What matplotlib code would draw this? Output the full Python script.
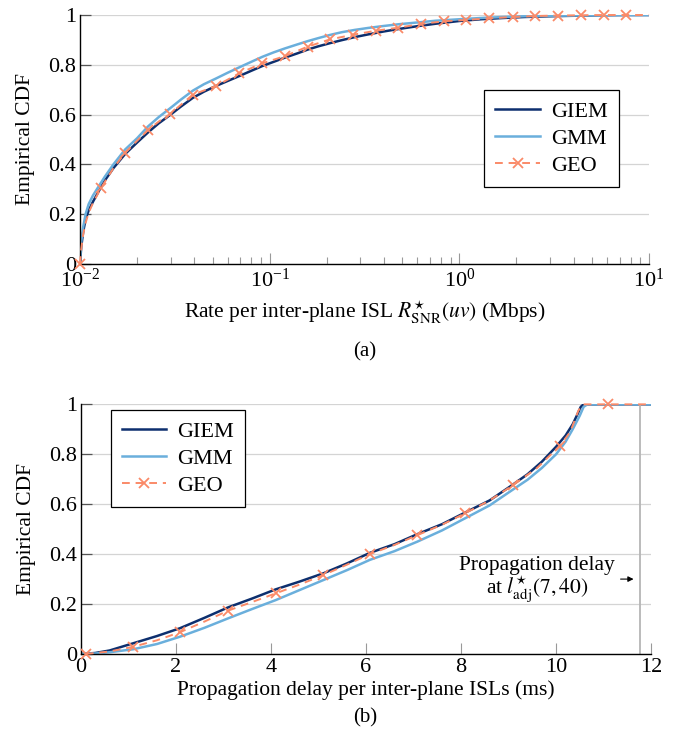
import numpy as np
import matplotlib
import matplotlib.pyplot as plt
matplotlib.use('agg')

plt.rcParams['font.family'] = ['Liberation Serif', 'DejaVu Serif']
plt.rcParams['mathtext.fontset'] = 'stix'

# (a) rate per inter-plane ISL, Mbps
rate_x = [0.0100, 0.01015, 0.0104, 0.0107, 0.0111, 0.0117, 0.0125, 0.0135, 0.0150, 0.0173, 0.020,
          0.0228, 0.026, 0.0298, 0.034, 0.0393, 0.045, 0.0521, 0.060, 0.0692, 0.080, 0.0914, 0.105,
          0.1205, 0.14, 0.1585, 0.18, 0.208, 0.24, 0.28, 0.33, 0.40, 0.48, 0.60, 0.75, 1.0, 1.3,
          1.7, 2.2, 3.0, 4.0, 5.5, 7.5, 10.0]
rate_giem_y = [0.0, 0.07, 0.13, 0.18, 0.215, 0.25, 0.29, 0.335, 0.385, 0.442, 0.488,
               0.528, 0.565, 0.598, 0.632, 0.667, 0.692, 0.715, 0.735, 0.755, 0.776, 0.795, 0.812,
               0.829, 0.846, 0.861, 0.874, 0.887, 0.899, 0.911, 0.922, 0.934, 0.944, 0.955, 0.965, 0.976, 0.983,
               0.988, 0.992, 0.995, 0.997, 0.999, 1.0, 1.0]
rate_gmm_y = [0.0, 0.09, 0.15, 0.20, 0.24, 0.275, 0.31, 0.35, 0.40, 0.46, 0.505,
              0.552, 0.59, 0.625, 0.66, 0.696, 0.722, 0.745, 0.768, 0.79, 0.812, 0.832, 0.85,
              0.866, 0.882, 0.895, 0.907, 0.92, 0.931, 0.94, 0.948, 0.956, 0.963, 0.970, 0.977, 0.983, 0.988,
              0.992, 0.995, 0.997, 0.998, 0.999, 1.0, 1.0]
rate_geo_x = [0.0100, 0.01015, 0.0104, 0.0107, 0.0111, 0.0117, 0.0129, 0.0150, 0.0173, 0.020, 0.0228,
              0.026, 0.0298, 0.0393, 0.0521, 0.0692, 0.0914, 0.1205, 0.1585, 0.208, 0.2761, 0.3631,
              0.4764, 0.6281, 0.8299, 1.084, 1.439, 1.910, 2.506, 3.296, 4.355, 5.781, 7.551, 10.0]
rate_geo_y = [0.0, 0.06, 0.12, 0.165, 0.205, 0.245, 0.305, 0.385, 0.447, 0.495, 0.538,
              0.572, 0.602, 0.680, 0.715, 0.766, 0.806, 0.835, 0.873, 0.902, 0.921, 0.937,
              0.949, 0.964, 0.975, 0.980, 0.987, 0.992, 0.996, 0.998, 0.999, 1.0, 1.0, 1.0]
rate_geo_marks = [0.0100, 0.0129, 0.0173, 0.0228, 0.0298, 0.0393, 0.0521, 0.0692, 0.0914, 0.1205,
                  0.1585, 0.208, 0.2761, 0.3631, 0.4764, 0.6281, 0.8299, 1.084, 1.439, 1.910, 2.506,
                  3.296, 4.355, 5.781, 7.551]

# (b) propagation delay per inter-plane ISL, ms
delay_giem_x = [0, 0.3, 0.6, 1.1, 1.6, 2.08, 2.6, 3.1, 3.6, 4.1, 4.6, 5.1, 5.6, 6.08, 6.6, 7.08, 7.6,
                8.08, 8.6, 9.08, 9.4, 9.7, 10.0, 10.2, 10.35, 10.45, 10.52, 10.58, 12]
delay_giem_y = [0, 0.004, 0.014, 0.043, 0.072, 0.103, 0.145, 0.187, 0.222, 0.259, 0.29, 0.323, 0.363,
                0.405, 0.44, 0.48, 0.52, 0.566, 0.615, 0.677, 0.72, 0.77, 0.83, 0.875, 0.92, 0.96, 0.99,
                1.0, 1.0]
delay_gmm_x = [0, 0.3, 0.6, 1.1, 1.6, 2.08, 2.6, 3.1, 3.6, 4.1, 4.6, 5.1, 5.6, 6.08, 6.6, 7.08, 7.6,
               8.08, 8.6, 9.08, 9.4, 9.7, 10.0, 10.2, 10.35, 10.5, 10.58, 10.66, 12]
delay_gmm_y = [0, 0.002, 0.007, 0.019, 0.04, 0.069, 0.105, 0.143, 0.18, 0.216, 0.256, 0.296, 0.336,
               0.377, 0.412, 0.45, 0.495, 0.543, 0.595, 0.657, 0.698, 0.745, 0.80, 0.85, 0.90, 0.955,
               0.99, 1.0, 1.0]
delay_geo_x = [0.1, 0.6, 1.1, 1.6, 2.08, 2.6, 3.1, 3.6, 4.1, 4.6, 5.1, 5.6, 6.08, 6.6, 7.08, 7.6, 8.08,
               8.6, 9.09, 9.6, 10.08, 10.3, 10.47, 10.57, 11.09, 12]
delay_geo_y = [0, 0.01, 0.029, 0.055, 0.087, 0.13, 0.174, 0.208, 0.243, 0.278, 0.316, 0.358, 0.400,
               0.437, 0.476, 0.518, 0.563, 0.615, 0.676, 0.745, 0.834, 0.89, 0.975, 1.0, 1.0, 1.0]
delay_geo_marks = [0.1, 1.1, 2.08, 3.1, 4.1, 5.1, 6.08, 7.08, 8.08, 9.09, 10.08, 11.09]
delay_limit = 11.77

c_giem = '#0d2f6e'
c_gmm = '#6aafdc'
c_geo = '#fa8a68'


def style_axes(ax):
    ax.spines['top'].set_visible(False)
    ax.spines['right'].set_visible(False)
    ax.spines['left'].set_linewidth(1.0)
    ax.spines['bottom'].set_linewidth(1.0)
    ax.set_ylim(0, 1)
    ax.set_yticks([0, 0.2, 0.4, 0.6, 0.8, 1])
    ax.set_yticklabels(['0', '0.2', '0.4', '0.6', '0.8', '1'])
    ax.grid(True, axis='y', color='#d4d4d4', linewidth=0.9)
    ax.tick_params(axis='y', direction='in', length=8, width=0.9, color='#555555', labelsize=16, pad=3)
    ax.tick_params(axis='x', which='major', direction='in', length=8, width=0.8, color='#999999', labelsize=16, pad=3)
    ax.tick_params(axis='x', which='minor', direction='in', length=5, width=0.8, color='#999999')
    ax.set_ylabel('Empirical CDF', fontsize=15.5, labelpad=9)
    ax.set_axisbelow(True)


def add_curves(ax, giem_x, giem_y, gmm_x, gmm_y, geo_x, geo_y, geo_marks):
    ax.plot(giem_x, giem_y, color=c_giem, lw=1.8, label='GIEM')
    ax.plot(gmm_x, gmm_y, color=c_gmm, lw=1.8, label='GMM')
    marks = [geo_x.index(v) for v in geo_marks]
    ax.plot(geo_x, geo_y, color=c_geo, lw=1.4, ls=(0, (4, 3)), marker='x', ms=7, mew=1.3,
            markevery=marks, label='GEO', clip_on=False, zorder=3)


def add_legend(ax, loc, anchor):
    leg = ax.legend(loc=loc, bbox_to_anchor=anchor, borderaxespad=0, fontsize=16, frameon=True,
                    fancybox=False, edgecolor='black', framealpha=1, handlelength=2.0,
                    handletextpad=0.5, borderpad=0.5, labelspacing=0.3)
    leg.get_frame().set_linewidth(0.9)


fig = plt.figure(figsize=(6.73, 7.43), dpi=100)

ax1 = fig.add_axes([0.1189, 0.6447, 0.8455, 0.3351])
add_curves(ax1, rate_x, rate_giem_y, rate_x, rate_gmm_y, rate_geo_x, rate_geo_y, rate_geo_marks)
ax1.set_xscale('log')
ax1.set_xlim(1e-2, 1e1)
style_axes(ax1)
ax1.set_xlabel(r'Rate per inter-plane ISL $R^{\star}_{\mathrm{SNR}}(uv)$ (Mbps)', fontsize=15.5, labelpad=5)
add_legend(ax1, 'upper right', (0.947, 0.699))
fig.text(0.542, 0.526, '(a)', ha='center', va='center', fontsize=15)

ax2 = fig.add_axes([0.1204, 0.1198, 0.847, 0.336])
add_curves(ax2, delay_giem_x, delay_giem_y, delay_gmm_x, delay_gmm_y, delay_geo_x, delay_geo_y, delay_geo_marks)
ax2.axvline(delay_limit, color='#b5b5b5', lw=1.3)
ax2.set_xlim(0, 12)
ax2.set_xticks([0, 2, 4, 6, 8, 10, 12])
style_axes(ax2)
ax2.set_xlabel('Propagation delay per inter-plane ISLs (ms)', fontsize=15.5, labelpad=2)
ax2.text(9.6, 0.338, 'Propagation delay', ha='center', va='baseline', fontsize=15.5)
ax2.text(9.6, 0.245, 'at $l^{\\star}_{\\mathrm{adj}}(7, 40)$', ha='center', va='baseline', fontsize=15.5)
ax2.annotate('', xy=(delay_limit - 0.08, 0.30), xytext=(11.3, 0.30),
             arrowprops=dict(arrowstyle='-|>', color='black', lw=0.8, mutation_scale=8))
add_legend(ax2, 'upper left', (0.052, 0.977))
fig.text(0.542, 0.034, '(b)', ha='center', va='center', fontsize=15)

fig.savefig('out.png', dpi=100)
